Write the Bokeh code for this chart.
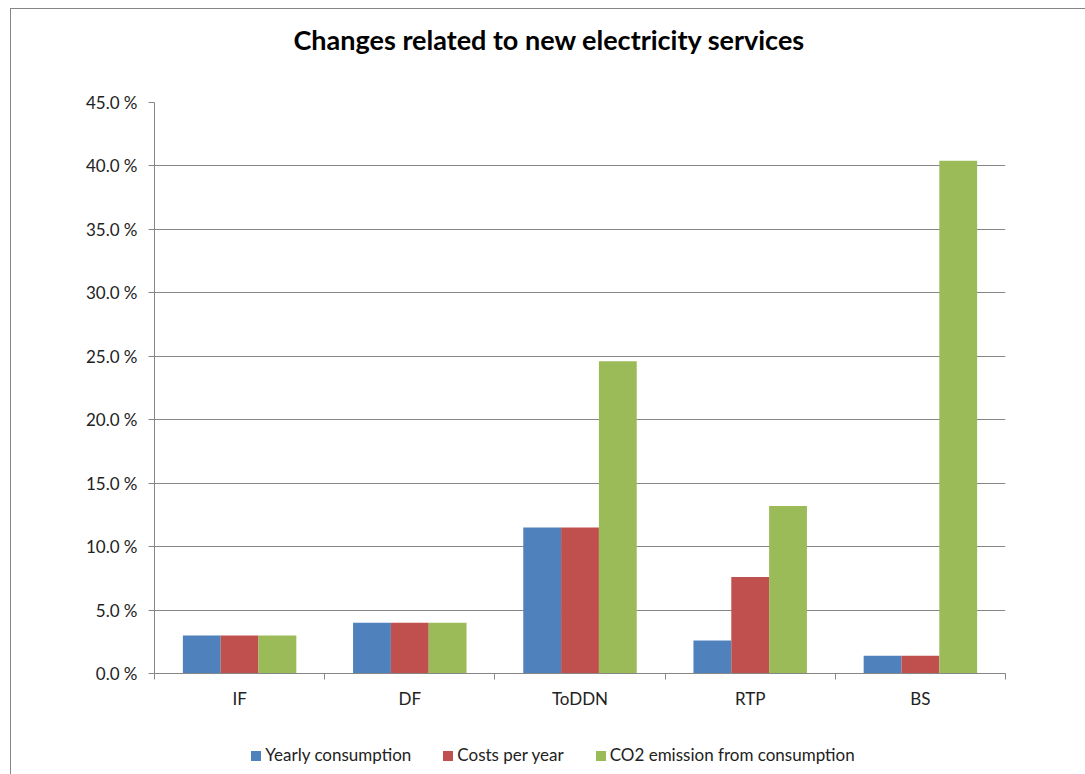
from bokeh.plotting import figure
from bokeh.layouts import column
from bokeh.models import FixedTicker, Range1d, Title, Div
from bokeh.embed import file_html
from bokeh.resources import INLINE

title_text = "Changes related to new electricity services"
categories = ["IF", "DF", "ToDDN", "RTP", "BS"]
series_names = ["Yearly consumption", "Costs per year", "CO2 emission from consumption"]
yearly_consumption = [3.0, 4.0, 11.5, 2.6, 1.4]
costs_per_year = [3.0, 4.0, 11.5, 7.6, 1.4]
co2_emission = [3.0, 4.0, 24.6, 13.2, 40.4]
series_values = [yearly_consumption, costs_per_year, co2_emission]
colors = ["#4F81BD", "#C0504D", "#9BBB59"]
y_ticks = [0, 5, 10, 15, 20, 25, 30, 35, 40, 45]

FONT = "Lato"
GRID = "#868686"

p = figure(frame_width=851, frame_height=571, output_backend="svg", toolbar_location=None,
           x_range=Range1d(0, len(categories)), y_range=Range1d(0, 45),
           min_border_left=143, min_border_right=80, min_border_top=93, min_border_bottom=45)
p.outline_line_color = None

bw = 1.0 / 4.5
renderers = []
for k, (vals, col) in enumerate(zip(series_values, colors)):
    xs = [i + 0.5 + (k - 1) * bw for i in range(len(categories))]
    r = p.vbar(x=xs, top=vals, bottom=0, width=bw, fill_color=col, line_color=None)
    renderers.append(r)

# title (outermost) with an empty spacer title between it and the frame
p.title.text = title_text
p.title.align = "left"
p.title.offset = 139
p.title.standoff = 0
p.title.vertical_align = "bottom"
p.title.text_font = FONT
p.title.text_font_size = "27px"
p.title.text_font_style = "bold"
p.title.text_color = "#000000"
p.add_layout(Title(text=" ", text_font_size="1px", standoff=44), "above")

# y axis
ya = p.yaxis[0]
ya.ticker = FixedTicker(ticks=y_ticks)
ya.major_label_overrides = {t: f"{t:.1f} %" for t in y_ticks}
ya.axis_line_color = GRID
ya.major_tick_line_color = GRID
ya.major_tick_out = 6
ya.major_tick_in = 0
ya.minor_tick_line_color = None
ya.major_label_text_font = FONT
ya.major_label_text_font_size = "17px"
ya.major_label_text_color = "#222222"
ya.major_label_standoff = 11

# x axis
xa = p.xaxis[0]
xa.ticker = FixedTicker(ticks=[i + 0.5 for i in range(len(categories))],
                        minor_ticks=list(range(len(categories) + 1)))
xa.major_label_overrides = {i + 0.5: c for i, c in enumerate(categories)}
xa.axis_line_color = GRID
xa.major_tick_line_color = None
xa.major_tick_out = 0
xa.major_tick_in = 0
xa.minor_tick_line_color = GRID
xa.minor_tick_out = 6
xa.minor_tick_in = 0
xa.major_label_text_font = FONT
xa.major_label_text_font_size = "17px"
xa.major_label_text_color = "#222222"
xa.major_label_standoff = 8

p.xgrid.grid_line_color = None
p.ygrid.ticker = FixedTicker(ticks=y_ticks)
p.ygrid.grid_line_color = GRID
p.ygrid.grid_line_width = 1

# legend below the chart, built from the series names and colours
items_html = "".join(
    f'<span style="display:inline-block;margin:0 16px;white-space:nowrap;">'
    f'<span style="display:inline-block;width:10px;height:10px;background:{c};'
    f'margin-right:4px;vertical-align:middle;position:relative;top:-1px;"></span>{n}</span>'
    for n, c in zip(series_names, colors))
legend_div = Div(
    text=(f'<div style="width:1074px;box-sizing:border-box;padding-left:0px;padding-top:22px;'
          f'text-align:center;font-family:Lato;font-size:17px;line-height:20px;color:#222222;">'
          f'{items_html}</div>'),
    width=1074, height=56)

layout = column(p, legend_div,
                styles={"border-left": "1px solid #868686", "border-top": "1px solid #868686",
                        "margin-left": "10px", "margin-top": "8px"})

open("out.html", "w").write(file_html(layout, INLINE))
